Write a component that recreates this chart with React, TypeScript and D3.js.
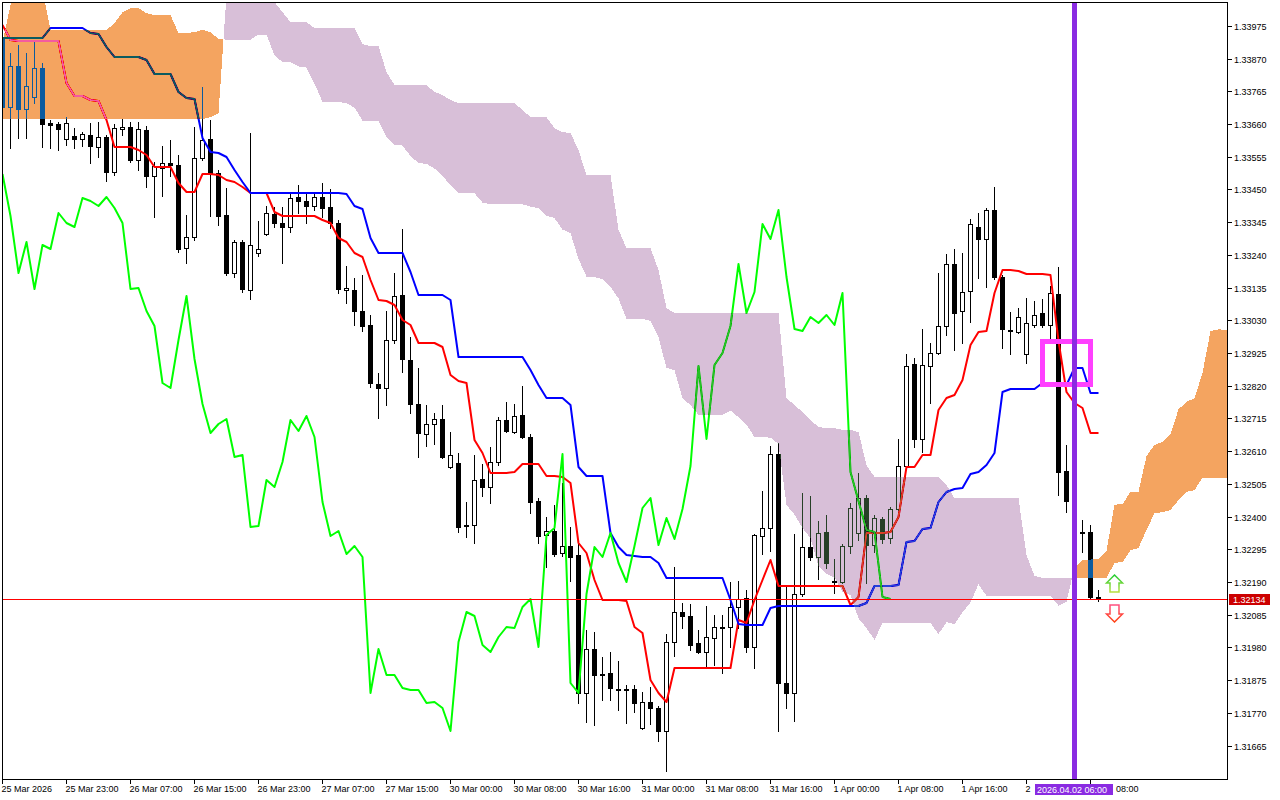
import React, { useEffect, useRef } from 'react';
import * as d3 from 'd3';

// GBPUSD-style H1 bars, 25 Mar 15:00 .. 2 Apr 09:00
const opens = [
  1.33936, 1.33715, 1.33846, 1.33708, 1.33747, 1.33840, 1.33663, 1.33660, 1.33612, 1.33621,
  1.33612, 1.33625, 1.33586, 1.33618, 1.33506, 1.33644, 1.33650, 1.33544, 1.33641, 1.33493,
  1.33519, 1.33535, 1.33528, 1.33262, 1.33297, 1.33551, 1.33612, 1.33503, 1.33368, 1.33182,
  1.33281, 1.33127, 1.33246, 1.33307, 1.33371, 1.33342, 1.33329, 1.33426, 1.33413, 1.33397,
  1.33426, 1.33394, 1.33342, 1.33127, 1.33127, 1.33060, 1.33015, 1.32825, 1.32813, 1.32967,
  1.33111, 1.32902, 1.32761, 1.32665, 1.32697, 1.32713, 1.32559, 1.32572, 1.32373, 1.32373,
  1.32520, 1.32495, 1.32575, 1.32710, 1.32671, 1.32726, 1.32655, 1.32450, 1.32341, 1.32353,
  1.32283, 1.32305, 1.32276, 1.31833, 1.31975, 1.31894, 1.31898, 1.31846, 1.31846, 1.31846,
  1.31721, 1.31805, 1.31785, 1.31711, 1.31997, 1.32093, 1.32081, 1.31994, 1.31965, 1.32010,
  1.32045, 1.32045, 1.32110, 1.32138, 1.31981, 1.32337, 1.32363, 1.32601, 1.31866, 1.31833,
  1.32151, 1.32302, 1.32270, 1.32350, 1.32193, 1.32190, 1.32305, 1.32347, 1.32459, 1.32309,
  1.32392, 1.32331, 1.32424, 1.32562, 1.32890, 1.32649, 1.32883, 1.32925, 1.33012, 1.33211,
  1.33060, 1.33124, 1.33329, 1.33291, 1.33384, 1.33169, 1.32999, 1.32992, 1.32922, 1.33015,
  1.33053, 1.33015, 1.33114, 1.32546, 1.32450, 1.32347, 1.32350, 1.32142,
];
const highs = [
  1.34007, 1.33888, 1.33914, 1.33888, 1.33923, 1.33856, 1.33673, 1.33666, 1.33682, 1.33647,
  1.33634, 1.33663, 1.33666, 1.33625, 1.33660, 1.33676, 1.33666, 1.33666, 1.33654, 1.33538,
  1.33589, 1.33609, 1.33560, 1.33368, 1.33650, 1.33779, 1.33673, 1.33512, 1.33455, 1.33288,
  1.33288, 1.33631, 1.33349, 1.33397, 1.33394, 1.33394, 1.33435, 1.33464, 1.33438, 1.33442,
  1.33471, 1.33451, 1.33352, 1.33204, 1.33166, 1.33175, 1.33047, 1.32861, 1.33060, 1.33182,
  1.33323, 1.32976, 1.32877, 1.32758, 1.32732, 1.32758, 1.32671, 1.32604, 1.32447, 1.32597,
  1.32569, 1.32623, 1.32719, 1.32768, 1.32761, 1.32819, 1.32665, 1.32459, 1.32398, 1.32437,
  1.32508, 1.32366, 1.32315, 1.32036, 1.32029, 1.31949, 1.31965, 1.31936, 1.31859, 1.31859,
  1.31837, 1.31853, 1.31792, 1.32023, 1.32238, 1.32122, 1.32119, 1.32036, 1.32113, 1.32084,
  1.32084, 1.32190, 1.32193, 1.32164, 1.32344, 1.32482, 1.32626, 1.32636, 1.32174, 1.32344,
  1.32475, 1.32466, 1.32386, 1.32405, 1.32264, 1.32312, 1.32443, 1.32540, 1.32469, 1.32405,
  1.32398, 1.32431, 1.32649, 1.32922, 1.32909, 1.33002, 1.32957, 1.33182, 1.33243, 1.33259,
  1.33246, 1.33355, 1.33374, 1.33390, 1.33458, 1.33175, 1.33056, 1.33069, 1.33101, 1.33092,
  1.33098, 1.33140, 1.33201, 1.32630, 1.32459, 1.32389, 1.32373, 1.32164,
];
const lows = [
  1.33698, 1.33583, 1.33615, 1.33615, 1.33727, 1.33586, 1.33583, 1.33576, 1.33593, 1.33583,
  1.33589, 1.33535, 1.33554, 1.33477, 1.33496, 1.33625, 1.33538, 1.33512, 1.33458, 1.33361,
  1.33429, 1.33493, 1.33249, 1.33214, 1.33288, 1.33544, 1.33365, 1.33336, 1.33175, 1.33169,
  1.33121, 1.33098, 1.33236, 1.33304, 1.33329, 1.33214, 1.33313, 1.33374, 1.33342, 1.33384,
  1.33361, 1.33326, 1.33117, 1.33085, 1.33015, 1.32995, 1.32816, 1.32716, 1.32758, 1.32957,
  1.32864, 1.32732, 1.32591, 1.32626, 1.32633, 1.32588, 1.32556, 1.32350, 1.32334, 1.32315,
  1.32466, 1.32443, 1.32565, 1.32671, 1.32668, 1.32652, 1.32411, 1.32315, 1.32238, 1.32273,
  1.32273, 1.32193, 1.31801, 1.31740, 1.31731, 1.31811, 1.31811, 1.31779, 1.31737, 1.31772,
  1.31718, 1.31734, 1.31679, 1.31583, 1.31952, 1.32042, 1.31971, 1.31962, 1.31920, 1.31923,
  1.31898, 1.31981, 1.32042, 1.31965, 1.31914, 1.32280, 1.32289, 1.31711, 1.31785, 1.31744,
  1.32145, 1.32260, 1.32199, 1.32235, 1.32154, 1.32187, 1.32283, 1.32325, 1.32187, 1.32286,
  1.32315, 1.32315, 1.32421, 1.32559, 1.32623, 1.32607, 1.32764, 1.32922, 1.32983, 1.32934,
  1.32957, 1.33024, 1.33166, 1.33137, 1.33162, 1.32941, 1.32922, 1.32989, 1.32893, 1.33008,
  1.33008, 1.32973, 1.32469, 1.32414, 1.32325, 1.32286, 1.32138, 1.32130,
];
const closes = [
  1.33715, 1.33846, 1.33708, 1.33782, 1.33840, 1.33660, 1.33657, 1.33644, 1.33663, 1.33612,
  1.33628, 1.33589, 1.33618, 1.33506, 1.33647, 1.33650, 1.33544, 1.33644, 1.33493, 1.33525,
  1.33535, 1.33528, 1.33259, 1.33297, 1.33551, 1.33609, 1.33499, 1.33365, 1.33182, 1.33281,
  1.33130, 1.33272, 1.33259, 1.33374, 1.33342, 1.33329, 1.33422, 1.33413, 1.33397, 1.33426,
  1.33390, 1.33342, 1.33130, 1.33134, 1.33060, 1.33012, 1.32829, 1.32813, 1.32967, 1.33108,
  1.32906, 1.32761, 1.32668, 1.32697, 1.32713, 1.32591, 1.32597, 1.32366, 1.32370, 1.32517,
  1.32495, 1.32575, 1.32710, 1.32674, 1.32723, 1.32655, 1.32447, 1.32337, 1.32353, 1.32280,
  1.32305, 1.32270, 1.31833, 1.31975, 1.31891, 1.31891, 1.31850, 1.31843, 1.31843, 1.31801,
  1.31805, 1.31785, 1.31711, 1.31997, 1.32093, 1.32081, 1.31988, 1.31965, 1.32013, 1.32045,
  1.32042, 1.32110, 1.32135, 1.31981, 1.32341, 1.32363, 1.32601, 1.31866, 1.31833, 1.32151,
  1.32302, 1.32270, 1.32347, 1.32251, 1.32190, 1.32305, 1.32427, 1.32459, 1.32309, 1.32395,
  1.32328, 1.32424, 1.32562, 1.32883, 1.32649, 1.32886, 1.32925, 1.33012, 1.33211, 1.33053,
  1.33121, 1.33339, 1.33291, 1.33384, 1.33169, 1.33002, 1.32995, 1.33040, 1.33021, 1.33047,
  1.33015, 1.33117, 1.32543, 1.32450, 1.32357, 1.32350, 1.32142, 1.32134,
];

// Ichimoku Kinko Hyo (9, 26, 52)
const tenkan = [
  1.33978, 1.33930, 1.33926, 1.33926, 1.33926, 1.33926, 1.33926, 1.33926, 1.33792, 1.33750,
  1.33750, 1.33737, 1.33734, 1.33673, 1.33586, 1.33586, 1.33586, 1.33576, 1.33560, 1.33522,
  1.33522, 1.33522, 1.33471, 1.33442, 1.33442, 1.33499, 1.33499, 1.33496, 1.33480, 1.33474,
  1.33458, 1.33438, 1.33438, 1.33438, 1.33377, 1.33365, 1.33365, 1.33365, 1.33365, 1.33365,
  1.33352, 1.33342, 1.33294, 1.33281, 1.33246, 1.33233, 1.33159, 1.33095, 1.33092, 1.33079,
  1.33031, 1.33015, 1.32957, 1.32957, 1.32957, 1.32944, 1.32854, 1.32835, 1.32829, 1.32646,
  1.32604, 1.32540, 1.32540, 1.32540, 1.32543, 1.32569, 1.32569, 1.32569, 1.32530, 1.32530,
  1.32527, 1.32508, 1.32315, 1.32283, 1.32196, 1.32132, 1.32132, 1.32132, 1.32129, 1.32045,
  1.32026, 1.31875, 1.31833, 1.31805, 1.31914, 1.31914, 1.31914, 1.31914, 1.31914, 1.31914,
  1.31914, 1.31914, 1.32068, 1.32058, 1.32132, 1.32196, 1.32260, 1.32177, 1.32177, 1.32177,
  1.32177, 1.32177, 1.32177, 1.32177, 1.32177, 1.32177, 1.32116, 1.32142, 1.32347, 1.32347,
  1.32347, 1.32350, 1.32398, 1.32559, 1.32559, 1.32597, 1.32597, 1.32742, 1.32780, 1.32790,
  1.32838, 1.32951, 1.32992, 1.32995, 1.33117, 1.33191, 1.33191, 1.33188, 1.33178, 1.33178,
  1.33178, 1.33175, 1.32963, 1.32800, 1.32764, 1.32748, 1.32668, 1.32668,
];
const kijun = [
  1.33936, 1.33936, 1.33936, 1.33936, 1.33936, 1.33936, 1.33968, 1.33968, 1.33968, 1.33968,
  1.33968, 1.33952, 1.33949, 1.33907, 1.33875, 1.33875, 1.33875, 1.33875, 1.33865, 1.33820,
  1.33820, 1.33820, 1.33763, 1.33743, 1.33740, 1.33615, 1.33570, 1.33567, 1.33554, 1.33512,
  1.33474, 1.33438, 1.33438, 1.33438, 1.33438, 1.33438, 1.33438, 1.33438, 1.33438, 1.33438,
  1.33438, 1.33438, 1.33438, 1.33435, 1.33397, 1.33387, 1.33294, 1.33246, 1.33246, 1.33246,
  1.33246, 1.33185, 1.33111, 1.33111, 1.33111, 1.33111, 1.33095, 1.32912, 1.32912, 1.32912,
  1.32912, 1.32912, 1.32912, 1.32912, 1.32912, 1.32912, 1.32870, 1.32822, 1.32780, 1.32780,
  1.32780, 1.32758, 1.32559, 1.32530, 1.32530, 1.32530, 1.32347, 1.32302, 1.32276, 1.32273,
  1.32270, 1.32270, 1.32251, 1.32203, 1.32203, 1.32203, 1.32203, 1.32203, 1.32203, 1.32203,
  1.32203, 1.32132, 1.32055, 1.32052, 1.32052, 1.32052, 1.32106, 1.32113, 1.32113, 1.32113,
  1.32113, 1.32113, 1.32113, 1.32113, 1.32113, 1.32113, 1.32113, 1.32113, 1.32122, 1.32177,
  1.32177, 1.32177, 1.32180, 1.32318, 1.32321, 1.32360, 1.32363, 1.32447, 1.32479, 1.32488,
  1.32492, 1.32536, 1.32543, 1.32565, 1.32604, 1.32800, 1.32809, 1.32809, 1.32809, 1.32809,
  1.32829, 1.32829, 1.32829, 1.32822, 1.32877, 1.32877, 1.32798, 1.32798,
];
// Senkou spans as plotted (already 26 bars ahead)
const spanA = [
  1.33923, 1.34042, 1.34122, 1.34122, 1.34122, 1.34090, 1.33962, 1.33962, 1.33962, 1.33962,
  1.33962, 1.33962, 1.33962, 1.33962, 1.33984, 1.34019, 1.34032, 1.34032, 1.34016, 1.34010,
  1.34010, 1.34010, 1.33952, 1.33952, 1.33955, 1.33962, 1.33955, 1.33933, 1.33931, 1.33931,
  1.33931, 1.33931, 1.33947, 1.33947, 1.33880, 1.33859, 1.33859, 1.33845, 1.33841, 1.33790,
  1.33731, 1.33731, 1.33731, 1.33726, 1.33713, 1.33671, 1.33671, 1.33671, 1.33617, 1.33593,
  1.33591, 1.33557, 1.33535, 1.33532, 1.33517, 1.33493, 1.33464, 1.33438, 1.33438, 1.33438,
  1.33408, 1.33402, 1.33402, 1.33402, 1.33402, 1.33402, 1.33395, 1.33390, 1.33366, 1.33358,
  1.33321, 1.33310, 1.33227, 1.33170, 1.33169, 1.33162, 1.33138, 1.33100, 1.33034, 1.33034,
  1.33034, 1.33028, 1.32975, 1.32877, 1.32870, 1.32779, 1.32758, 1.32726, 1.32726, 1.32726,
  1.32727, 1.32740, 1.32719, 1.32695, 1.32655, 1.32655, 1.32653, 1.32633, 1.32437, 1.32406,
  1.32363, 1.32331, 1.32240, 1.32217, 1.32204, 1.32159, 1.32148, 1.32073, 1.32042, 1.32004,
  1.32058, 1.32058, 1.32058, 1.32058, 1.32058, 1.32058, 1.32058, 1.32023, 1.32061, 1.32055,
  1.32092, 1.32124, 1.32183, 1.32145, 1.32145, 1.32145, 1.32145, 1.32145, 1.32145, 1.32145,
  1.32145, 1.32145, 1.32114, 1.32127, 1.32235, 1.32262, 1.32262, 1.32264, 1.32289, 1.32438,
  1.32440, 1.32479, 1.32480, 1.32594, 1.32630, 1.32639, 1.32665, 1.32744, 1.32768, 1.32780,
  1.32861, 1.32995, 1.33001, 1.32999, 1.32993,
];
const spanB = [
  1.33676, 1.33676, 1.33676, 1.33676, 1.33676, 1.33676, 1.33676, 1.33676, 1.33676, 1.33676,
  1.33676, 1.33676, 1.33676, 1.33676, 1.33676, 1.33676, 1.33676, 1.33676, 1.33676, 1.33676,
  1.33676, 1.33676, 1.33676, 1.33676, 1.33676, 1.33676, 1.33682, 1.33695, 1.34074, 1.34074,
  1.34074, 1.34074, 1.34074, 1.34074, 1.34052, 1.34019, 1.33987, 1.33987, 1.33987, 1.33968,
  1.33968, 1.33968, 1.33968, 1.33968, 1.33968, 1.33917, 1.33910, 1.33910, 1.33827, 1.33785,
  1.33785, 1.33785, 1.33785, 1.33785, 1.33763, 1.33753, 1.33737, 1.33727, 1.33727, 1.33727,
  1.33727, 1.33727, 1.33727, 1.33727, 1.33727, 1.33705, 1.33682, 1.33682, 1.33682, 1.33647,
  1.33634, 1.33631, 1.33576, 1.33496, 1.33496, 1.33496, 1.33496, 1.33320, 1.33262, 1.33262,
  1.33262, 1.33262, 1.33191, 1.33069, 1.33053, 1.33053, 1.33053, 1.33053, 1.33053, 1.33053,
  1.33053, 1.33053, 1.33053, 1.33053, 1.33053, 1.33053, 1.33053, 1.33053, 1.32780, 1.32758,
  1.32735, 1.32710, 1.32687, 1.32684, 1.32684, 1.32678, 1.32678, 1.32671, 1.32565, 1.32527,
  1.32527, 1.32527, 1.32527, 1.32527, 1.32527, 1.32527, 1.32527, 1.32527, 1.32501, 1.32459,
  1.32459, 1.32459, 1.32459, 1.32459, 1.32459, 1.32459, 1.32459, 1.32459, 1.32276, 1.32209,
  1.32203, 1.32203, 1.32203, 1.32203, 1.32203, 1.32203, 1.32203, 1.32203, 1.32203, 1.32251,
  1.32254, 1.32292, 1.32299, 1.32357, 1.32411, 1.32414, 1.32421, 1.32453, 1.32479, 1.32485,
  1.32524, 1.32524, 1.32524, 1.32524, 1.32524,
];
const chikouShift = 26;

const timeLabels = [
  { bar: 0, text: '25 Mar 2026' },
  { bar: 8, text: '25 Mar 23:00' },
  { bar: 16, text: '26 Mar 07:00' },
  { bar: 24, text: '26 Mar 15:00' },
  { bar: 32, text: '26 Mar 23:00' },
  { bar: 40, text: '27 Mar 07:00' },
  { bar: 48, text: '27 Mar 15:00' },
  { bar: 56, text: '30 Mar 00:00' },
  { bar: 64, text: '30 Mar 08:00' },
  { bar: 72, text: '30 Mar 16:00' },
  { bar: 80, text: '31 Mar 00:00' },
  { bar: 88, text: '31 Mar 08:00' },
  { bar: 96, text: '31 Mar 16:00' },
  { bar: 104, text: '1 Apr 00:00' },
  { bar: 112, text: '1 Apr 08:00' },
  { bar: 120, text: '1 Apr 16:00' },
  { bar: 128, text: '2 Apr 00:00' },
  { bar: 136, text: '08:00' },
];
const priceTicks = [
  1.33975, 1.3387, 1.33765, 1.3366, 1.33555, 1.3345, 1.33345, 1.3324, 1.33135, 1.3303,
  1.32925, 1.3282, 1.32715, 1.3261, 1.32505, 1.324, 1.32295, 1.3219, 1.32085, 1.3198,
  1.31875, 1.3177, 1.31665,
];

const lastPrice = 1.32134;
const vlineBar = 134;
const vlineLabel = '2026.04.02 06:00';
const boxBars = [130, 136];
const boxPrices = [1.32962, 1.32824];
const arrowBar = 139;
const arrowUpPrice = 1.32212;
const arrowDownPrice = 1.32061;

const W = 1280;
const H = 800;
const plot = { left: 3, top: 3, right: 1227, bottom: 779 };
const FONT = "'Liberation Sans', Arial, sans-serif";

const App: React.FC = () => {
  const svgRef = useRef<SVGSVGElement>(null);

  useEffect(() => {
    if (svgRef.current === null) return;
    const svg = d3.select(svgRef.current);
    svg.selectAll('*').remove();

    const x = d3.scaleLinear().domain([0, 137]).range([2.5, 1098.5]);
    const y = d3.scaleLinear().domain([1.31665, 1.33975]).range([745.5, 25.9]);
    const py = (p: number): number => Math.round(y(p));

    const defs = svg.append('defs');
    defs
      .append('clipPath')
      .attr('id', 'plot-clip')
      .append('rect')
      .attr('x', plot.left)
      .attr('y', plot.top)
      .attr('width', plot.right - plot.left)
      .attr('height', plot.bottom - plot.top);

    const vx = x(vlineBar);
    const hlLeft = vx - 39.5;
    const hlRight = vx + 38.5;

    const upGrad = defs
      .append('linearGradient')
      .attr('id', 'up-grad')
      .attr('x1', 0)
      .attr('y1', 0)
      .attr('x2', 0)
      .attr('y2', 1);
    upGrad.append('stop').attr('offset', '0%').attr('stop-color', '#22cc33');
    upGrad.append('stop').attr('offset', '100%').attr('stop-color', '#b8e040');
    const downGrad = defs
      .append('linearGradient')
      .attr('id', 'down-grad')
      .attr('x1', 0)
      .attr('y1', 0)
      .attr('x2', 0)
      .attr('y2', 1);
    downGrad.append('stop').attr('offset', '0%').attr('stop-color', '#ff5080');
    downGrad.append('stop').attr('offset', '100%').attr('stop-color', '#ff4010');

    // everything that the cloud blends with lives in one group
    const g = svg.append('g').attr('clip-path', 'url(#plot-clip)');
    g.append('rect').attr('width', W).attr('height', H).attr('fill', '#ffffff');

    // candles
    const candles = g.append('g').attr('shape-rendering', 'crispEdges');
    opens.forEach((o, i) => {
      const c = closes[i];
      const cx = x(i);
      const yHi = py(highs[i]);
      const yLo = py(lows[i]);
      candles
        .append('rect')
        .attr('x', cx - 0.5)
        .attr('y', yHi)
        .attr('width', 1)
        .attr('height', yLo - yHi + 1)
        .attr('fill', '#000');
      const yT = py(Math.max(o, c));
      const yB = py(Math.min(o, c));
      if (c > o && yB - yT >= 2) {
        candles
          .append('rect')
          .attr('x', cx - 2)
          .attr('y', yT + 0.5)
          .attr('width', 4)
          .attr('height', yB - yT)
          .attr('fill', '#fff')
          .attr('stroke', '#000');
      } else {
        candles
          .append('rect')
          .attr('x', cx - 2.5)
          .attr('y', yT)
          .attr('width', 5)
          .attr('height', yB - yT + 1)
          .attr('fill', '#000');
      }
    });

    // indicator lines
    const line = d3
      .line<number>()
      .x((_, i) => x(i))
      .y((d) => py(d));
    const drawLine = (data: number[], color: string): void => {
      g.append('path')
        .attr('d', line(data) ?? '')
        .attr('fill', 'none')
        .attr('stroke', color)
        .attr('stroke-width', 2)
        .attr('stroke-linejoin', 'round');
    };
    drawLine(tenkan, '#ff0000');
    drawLine(kijun, '#0000ff');
    drawLine(closes.slice(chikouShift), '#00ff00');

    // kumo: filled per bar, colour by which span is on top
    let bull = '';
    let bear = '';
    const poly = (pts: number[][]): string =>
      'M' + pts.map((p) => `${p[0].toFixed(2)},${p[1].toFixed(2)}`).join('L') + 'Z';
    for (let i = 0; i < spanA.length - 1; i++) {
      const x0 = x(i);
      const x1 = x(i + 1);
      const a0 = y(spanA[i]);
      const a1 = y(spanA[i + 1]);
      const b0 = y(spanB[i]);
      const b1 = y(spanB[i + 1]);
      const d0 = spanA[i] - spanB[i];
      const d1 = spanA[i + 1] - spanB[i + 1];
      if (d0 >= 0 && d1 >= 0) {
        bull += poly([[x0, a0], [x1, a1], [x1, b1], [x0, b0]]);
      } else if (d0 <= 0 && d1 <= 0) {
        bear += poly([[x0, a0], [x1, a1], [x1, b1], [x0, b0]]);
      } else {
        const t = d0 / (d0 - d1);
        const xc = x0 + t * (x1 - x0);
        const yc = a0 + t * (a1 - a0);
        const first = poly([[x0, a0], [xc, yc], [x0, b0]]);
        const second = poly([[xc, yc], [x1, a1], [x1, b1]]);
        if (d0 > 0) {
          bull += first;
          bear += second;
        } else {
          bear += first;
          bull += second;
        }
      }
    }
    // difference against white gives sandybrown / thistle, and recolours what lies below
    g.append('path')
      .attr('d', bull)
      .attr('fill', '#0b5b9f')
      .attr('shape-rendering', 'crispEdges')
      .style('mix-blend-mode', 'difference');
    g.append('path')
      .attr('d', bear)
      .attr('fill', '#274027')
      .attr('shape-rendering', 'crispEdges')
      .style('mix-blend-mode', 'difference');

    // chart objects
    const objects = svg.append('g').attr('clip-path', 'url(#plot-clip)');

    const bidRow = py(lastPrice);
    objects
      .append('rect')
      .attr('x', plot.left)
      .attr('y', bidRow)
      .attr('width', plot.right - plot.left)
      .attr('height', 1)
      .attr('fill', '#ff0000')
      .attr('shape-rendering', 'crispEdges');

    const bx0 = x(boxBars[0]);
    const bx1 = x(boxBars[1]);
    const by0 = Math.round(y(boxPrices[0])) + 0.5;
    const by1 = Math.round(y(boxPrices[1])) + 0.5;
    objects
      .append('rect')
      .attr('x', bx0)
      .attr('y', by0)
      .attr('width', bx1 - bx0)
      .attr('height', by1 - by0)
      .attr('fill', 'none')
      .attr('stroke', '#ff40ff')
      .attr('stroke-width', 5)
      .attr('shape-rendering', 'crispEdges');

    objects
      .append('rect')
      .attr('x', vx - 2.5)
      .attr('y', plot.top)
      .attr('width', 5)
      .attr('height', plot.bottom - plot.top)
      .attr('fill', '#8a2be2')
      .attr('shape-rendering', 'crispEdges');

    const ax = x(arrowBar);
    const upY = py(arrowUpPrice);
    const downY = py(arrowDownPrice);
    objects
      .append('path')
      .attr(
        'd',
        `M${ax},${upY}L${ax + 8},${upY + 8}L${ax + 4.5},${upY + 8}L${ax + 4.5},${upY + 17}` +
          `L${ax - 4.5},${upY + 17}L${ax - 4.5},${upY + 8}L${ax - 8},${upY + 8}Z`
      )
      .attr('fill', '#fff')
      .attr('stroke', 'url(#up-grad)')
      .attr('stroke-width', 1.5);
    objects
      .append('path')
      .attr(
        'd',
        `M${ax},${downY}L${ax + 8},${downY - 8}L${ax + 4.5},${downY - 8}L${ax + 4.5},${downY - 17}` +
          `L${ax - 4.5},${downY - 17}L${ax - 4.5},${downY - 8}L${ax - 8},${downY - 8}Z`
      )
      .attr('fill', '#fff')
      .attr('stroke', 'url(#down-grad)')
      .attr('stroke-width', 1.5);

    // frame
    svg
      .append('rect')
      .attr('x', plot.left - 0.5)
      .attr('y', plot.top - 0.5)
      .attr('width', plot.right - plot.left + 1)
      .attr('height', plot.bottom - plot.top + 1)
      .attr('fill', 'none')
      .attr('stroke', '#000')
      .attr('shape-rendering', 'crispEdges');

    const axis = svg
      .append('g')
      .attr('font-family', FONT)
      .attr('font-size', 9)
      .attr('fill', '#000');

    // price axis
    priceTicks.forEach((p) => {
      const ty = py(p) + 0.5;
      axis
        .append('line')
        .attr('x1', plot.right + 1)
        .attr('x2', plot.right + 5)
        .attr('y1', ty)
        .attr('y2', ty)
        .attr('stroke', '#000')
        .attr('shape-rendering', 'crispEdges');
      axis
        .append('text')
        .attr('x', plot.right + 7)
        .attr('y', ty + 3.5)
        .text(p.toFixed(5));
    });
    axis
      .append('rect')
      .attr('x', plot.right + 2)
      .attr('y', bidRow - 5)
      .attr('width', 41)
      .attr('height', 11)
      .attr('fill', '#cc0000');
    axis
      .append('text')
      .attr('x', plot.right + 6)
      .attr('y', bidRow + 4)
      .attr('fill', '#fff')
      .text(lastPrice.toFixed(5));

    // time axis
    timeLabels.forEach((l) => {
      const tx = x(l.bar);
      axis
        .append('line')
        .attr('x1', tx)
        .attr('x2', tx)
        .attr('y1', plot.bottom + 1)
        .attr('y2', plot.bottom + 5)
        .attr('stroke', '#000')
        .attr('shape-rendering', 'crispEdges');
      const startsInside = tx - 1 >= hlLeft && tx - 1 < hlRight;
      const lx = startsInside ? hlRight + 3 : tx - 1;
      const label = axis.append('text').attr('x', lx).attr('y', 792).text(l.text);
      // a label that runs under the crosshair time box shows only what fits before it
      const node = label.node();
      if (!startsInside && node !== null && tx < hlLeft) {
        let s = l.text;
        while (s.length > 1 && lx + node.getComputedTextLength() > hlLeft - 1) {
          s = s.slice(0, -1).trimEnd();
          label.text(s);
        }
      }
    });
    axis
      .append('rect')
      .attr('x', hlLeft)
      .attr('y', 784)
      .attr('width', hlRight - hlLeft)
      .attr('height', 11)
      .attr('fill', '#8a2be2');
    axis
      .append('text')
      .attr('x', hlLeft + 2)
      .attr('y', 792.5)
      .attr('fill', '#fff')
      .text(vlineLabel);
  }, []);

  return (
    <svg
      ref={svgRef}
      width={W}
      height={H}
      style={{ position: 'absolute', left: 0, top: 0, background: '#fff' }}
    />
  );
};

export default App;
